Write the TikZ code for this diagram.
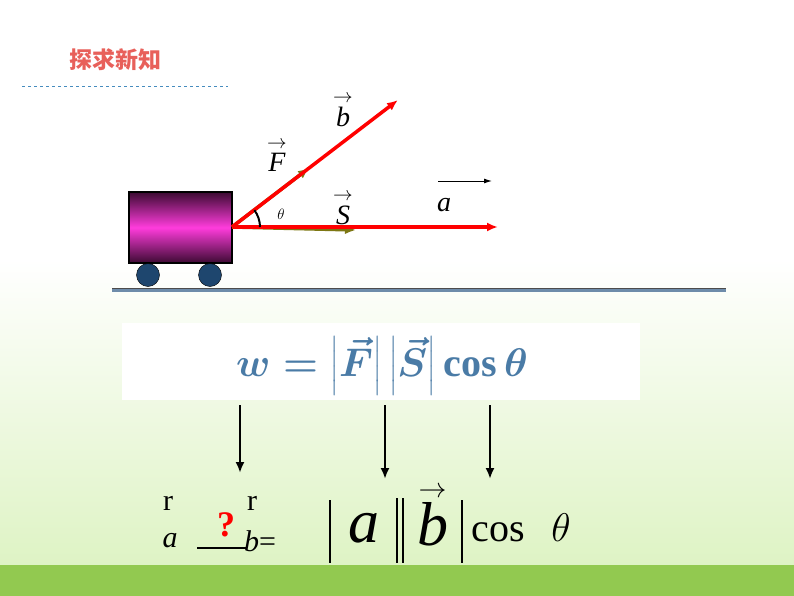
\RequirePackage{fix-cm}
\documentclass[tikz,border=0pt]{standalone}
\usepackage{fontspec}
\newfontfamily\cjk{Noto Sans CJK SC}
\setmainfont{Liberation Serif}
\usepackage{amsmath}
\usetikzlibrary{arrows.meta}
\definecolor{bgg}{RGB}{222,243,196}
\definecolor{band}{RGB}{146,201,80}
\definecolor{ttl}{RGB}{232,96,90}
\definecolor{dsh}{RGB}{70,140,190}
\definecolor{cdark}{RGB}{60,10,50}
\definecolor{cmag}{RGB}{255,60,220}
\definecolor{wheel}{RGB}{30,70,110}
\definecolor{grnd}{RGB}{110,140,170}
\definecolor{frm}{RGB}{74,123,166}
\newcommand{\vtx}[2][0.7]{\ensuremath{\overset{\scalebox{#1}{$\rightarrow$}}{\text{\itshape #2}}}}
\begin{document}
\begin{tikzpicture}[x=1pt,y=-1pt,
  redarr/.style={draw=red,line width=3.5pt,-{Latex[length=11pt,width=9pt]}},
  olarr/.style={draw=olive!85!black,line width=3.5pt,-{Latex[length=11pt,width=9pt]}},
  downarr/.style={draw=black,line width=2.2pt,-{Latex[length=11pt,width=9pt]}},
  lbl/.style={font=\fontsize{28}{30}\selectfont\itshape,inner sep=0pt}]
\useasboundingbox (0,0) rectangle (794,596);
\fill[white] (0,0) rectangle (794,260);
\shade[top color=white,bottom color=bgg] (0,259) rectangle (794,566);
\fill[band] (0,565) rectangle (794,596);
\node[font=\cjk\bfseries\fontsize{23}{25}\selectfont,text=ttl] (title) at (115,60) {探求新知};
\draw[dashed,dsh,line width=0.8pt] (22,86) -- (228,86);
% cart
\shade[top color=cdark,bottom color=cdark,middle color=cmag] (129,192) rectangle (232,263);
\draw[line width=2pt] (129,192) rectangle (232,263);
\node[circle,draw=black,fill=wheel,minimum size=23pt,inner sep=0pt] (w1) at (148,275) {};
\node[circle,draw=black,fill=wheel,minimum size=23pt,inner sep=0pt] (w2) at (210,275) {};
\draw[line width=4pt,grnd] (112,290) -- (726,290);
\draw[line width=0.8pt,black!70] (112,288) -- (726,288);
\coordinate (O) at (232,227);
\coordinate (B) at (398,100);
\coordinate (A) at (498,227);
\coordinate (F) at (309,168);
\coordinate (S) at (356,230);
\draw[olarr] (O) -- (S);
\draw[redarr] (O) -- (A);
\draw[olarr] (O) -- (F);
\draw[redarr] (O) -- (B);
\draw[line width=2pt] (260,227) arc[start angle=0,end angle=-37,radius=28];
\node[font=\fontsize{15}{16}\selectfont\itshape] (th) at (281,214) {$\theta$};
\node[lbl] (lb) at (343,110) {\vtx{b}};
\node[lbl] (lF) at (277,155) {\vtx{F}};
\node[lbl] (lS) at (343,208) {\vtx{S}};
\node[lbl] (la) at (444,205) {a};
\coordinate (aa1) at (438,181); \coordinate (aa2) at (492,181);
\draw[line width=1pt,-{Latex[length=8pt,width=5pt]}] (aa1) -- (aa2);
% formula box
\fill[white] (122,323) rectangle (640,400);
\node[font=\fontsize{40}{42}\selectfont\bfseries\boldmath,text=frm] (form) at (382,366) {$w=\left|\vec{F}\right|\left|\vec{S}\right|\cos\theta$};
\coordinate (d1) at (240,405); \coordinate (d1e) at (240,473);
\coordinate (d2) at (385,405); \coordinate (d2e) at (385,479);
\coordinate (d3) at (490,405); \coordinate (d3e) at (490,479);
\draw[downarr] (d1) -- (d1e);
\draw[downarr] (d2) -- (d2e);
\draw[downarr] (d3) -- (d3e);
% bottom formula
\node[font=\fontsize{30}{30}\selectfont] (r1) at (168,503) {r};
\node[lbl,font=\fontsize{30}{30}\selectfont\itshape] (ba) at (170,541) {a};
\node[font=\fontsize{36}{36}\bfseries\selectfont,text=red] (q) at (226,525) {?};
\coordinate (ul1) at (197,548); \coordinate (ul2) at (247,548);
\draw[line width=1.5pt] (ul1) -- (ul2);
\node[font=\fontsize{30}{30}\selectfont] (r2) at (252,503) {r};
\node[font=\fontsize{30}{30}\selectfont,anchor=west,inner sep=0pt] (be) at (244,541) {\itshape b\upshape=};
\draw[line width=1.6pt] (330,500) -- (330,563);
\node[font=\fontsize{62}{62}\selectfont\itshape,inner sep=0pt] (bA) at (364,528) {a};
\draw[line width=1.6pt] (397,498) -- (397,563);
\draw[line width=1.6pt] (403,498) -- (403,563);
\node[font=\fontsize{62}{62}\selectfont,inner sep=0pt] (bB) at (433,515) {\vtx[0.45]{b}};
\draw[line width=1.6pt] (462,500) -- (462,563);
\node[font=\fontsize{40}{40}\selectfont,inner sep=0pt] (cos) at (498,532) {cos};
\node[font=\fontsize{40}{40}\selectfont\itshape,inner sep=0pt] (bth) at (561,528) {$\theta$};
\end{tikzpicture}
\end{document}
